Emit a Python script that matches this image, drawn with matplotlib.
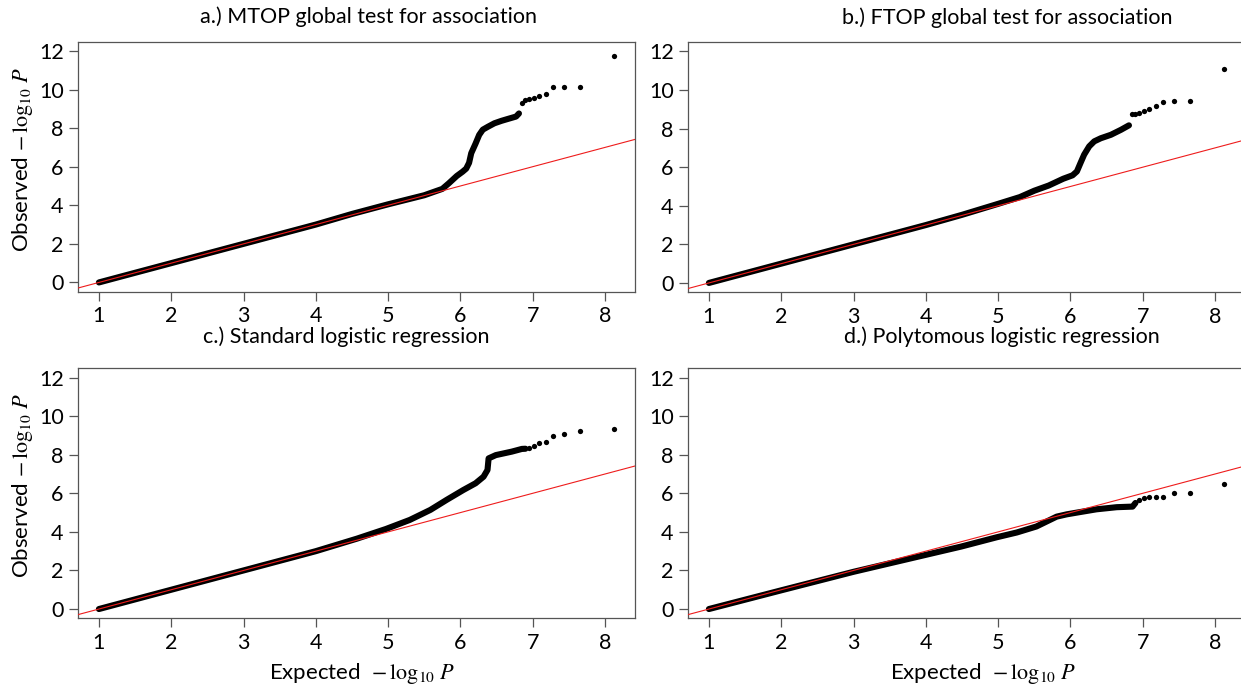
import numpy as np
import matplotlib
matplotlib.use("Agg")
import matplotlib.pyplot as plt

plt.rcParams['font.family'] = ['Lato', 'DejaVu Sans']
plt.rcParams['mathtext.fontset'] = 'stix'

# expected -log10 P for the top-ranked points (the sparse tail)
tail_x = [8.13, 7.65, 7.43, 7.28, 7.18, 7.09, 7.02, 6.95, 6.90, 6.85]

# a.) MTOP
a_dense_x = [1.0, 2.0, 3.0, 4.0, 4.5, 5.0, 5.5, 5.75, 5.84, 5.95, 6.03, 6.08, 6.12,
             6.15, 6.21, 6.26, 6.31, 6.38, 6.47, 6.57, 6.66, 6.77, 6.81]
a_dense_y = [0.0, 1.0, 2.0, 3.0, 3.55, 4.05, 4.52, 4.85, 5.14, 5.52, 5.74, 5.9, 6.2,
             6.7, 7.2, 7.65, 7.92, 8.07, 8.25, 8.38, 8.48, 8.6, 8.76]
a_tail_y = [11.74, 10.14, 10.14, 10.14, 9.75, 9.68, 9.57, 9.50, 9.45, 9.28]

# b.) FTOP
b_dense_x = [1.0, 2.0, 3.0, 4.0, 4.5, 5.0, 5.3, 5.5, 5.7, 5.9, 6.03, 6.09, 6.14,
             6.19, 6.26, 6.33, 6.42, 6.56, 6.70, 6.81]
b_dense_y = [0.0, 1.0, 2.0, 3.0, 3.53, 4.1, 4.45, 4.78, 5.05, 5.4, 5.58, 5.78, 6.22,
             6.65, 7.08, 7.34, 7.5, 7.68, 7.94, 8.17]
b_tail_y = [11.10, 9.45, 9.45, 9.40, 9.18, 9.01, 8.92, 8.80, 8.76, 8.74]

# c.) standard logistic regression
c_dense_x = [1.0, 2.0, 3.0, 4.0, 4.57, 4.97, 5.30, 5.585, 5.81, 6.04, 6.21, 6.32,
             6.375, 6.39, 6.49, 6.71, 6.85, 6.90]
c_dense_y = [0.0, 1.0, 2.0, 3.0, 3.65, 4.15, 4.62, 5.14, 5.66, 6.17, 6.52, 6.86,
             7.21, 7.81, 7.98, 8.16, 8.30, 8.31]
c_tail_y = [9.34, 9.22, 9.07, 8.97, 8.67, 8.59, 8.45, 8.33]

# d.) polytomous logistic regression
d_dense_x = [1.0, 2.0, 3.0, 4.0, 4.49, 4.98, 5.26, 5.53, 5.81, 5.95, 6.09, 6.36,
             6.64, 6.86, 6.90]
d_dense_y = [0.0, 0.97, 1.93, 2.81, 3.24, 3.72, 3.97, 4.28, 4.79, 4.91, 5.0, 5.17,
             5.28, 5.31, 5.5]
d_tail_y = [6.48, 6.0, 6.0, 5.81, 5.81, 5.80, 5.78, 5.66]

panels = [
    ("a.) MTOP global test for association", a_dense_x, a_dense_y, tail_x, a_tail_y),
    ("b.) FTOP global test for association", b_dense_x, b_dense_y, tail_x, b_tail_y),
    ("c.) Standard logistic regression", c_dense_x, c_dense_y, tail_x[:8], c_tail_y),
    ("d.) Polytomous logistic regression", d_dense_x, d_dense_y, tail_x[:8], d_tail_y),
]

W, H = 1241, 685
fig = plt.figure(figsize=(W / 100, H / 100), dpi=100)

# pixel boxes: left, top (all 556.7 x 250 px)
boxes = [(78.3, 41.7), (688.3, 42.2), (78.3, 368.3), (688.3, 368.3)]
title_pos = [(369, 17), (1007, 18), (346, 337), (1002, 337)]

for i, (title, dx, dy, tx, ty) in enumerate(panels):
    l, t = boxes[i]
    ax = fig.add_axes([l / W, 1 - (t + 250) / H, 556.7 / W, 250 / H])
    ax.plot(dx, dy, color='black', lw=4.4, solid_capstyle='round', zorder=2)
    ax.plot(tx, ty, 'o', color='black', ms=3.8, mec='none', zorder=2)
    xs = np.array([0.5, 9.0])
    ax.plot(xs, xs - 1, color='#ee1c1c', lw=0.8, zorder=3)
    ax.set_xlim(0.715, 8.415)
    ax.set_ylim(-0.48, 12.48)
    ax.set_xticks(range(1, 9))
    ax.set_yticks(range(0, 13, 2))
    ax.tick_params(length=6.5, width=0.9, pad=4, labelsize=15.5, color='#555555')
    for s in ax.spines.values():
        s.set_color('#555555')
        s.set_linewidth(0.9)
    if i % 2 == 0:
        ax.set_ylabel(r"Observed $-\,\log_{10}\,P$", fontsize=16)
        ax.yaxis.set_label_coords(-0.078, 0.53)
    if i >= 2:
        ax.set_xlabel(r"Expected  $-\,\log_{10}\,P$", fontsize=16)
        ax.xaxis.set_label_coords(0.51 if i == 2 else 0.53, -0.17)
    fig.text(title_pos[i][0] / W, 1 - title_pos[i][1] / H, title,
             ha='center', va='center', fontsize=15.5)

fig.savefig("out.png", dpi=100)
